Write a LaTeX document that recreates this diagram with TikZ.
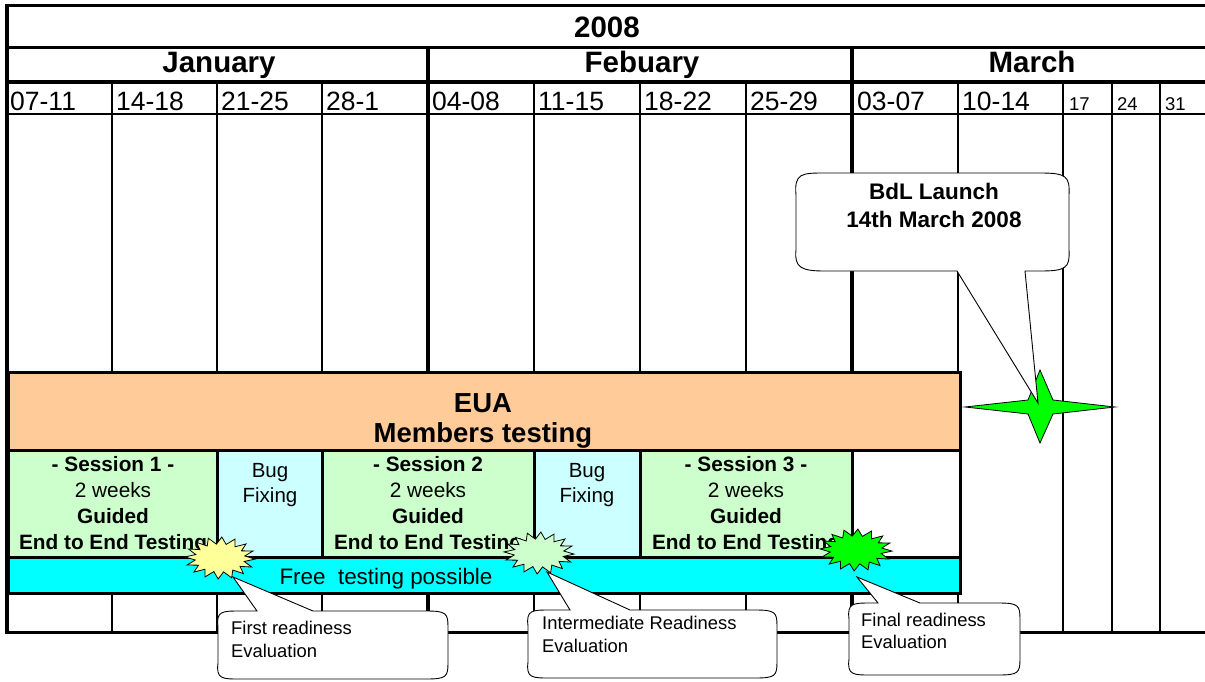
\documentclass[tikz,border=0pt]{standalone}
\usepackage{fontspec}
\setmainfont{Liberation Sans}
\definecolor{euaorange}{HTML}{FFCC99}
\definecolor{sessgreen}{HTML}{CCFFCC}
\definecolor{bugcyan}{HTML}{CCFFFF}
\definecolor{freecyan}{HTML}{00FFFF}
\definecolor{staryellow}{HTML}{FFFF99}
\definecolor{stargreen}{HTML}{00FF00}
\begin{document}
\begin{tikzpicture}[x=1pt,y=-1pt,
  gline/.style={draw=black,line width=2.6pt},
  cellbox/.style={draw=black,line width=3pt},
  hdr/.style={font=\fontsize{29.5}{34}\selectfont\bfseries, anchor=base, inner sep=0pt},
  wk/.style={font=\fontsize{26.5}{30}\selectfont, anchor=base west, inner sep=0pt},
  wks/.style={font=\fontsize{18.5}{22}\selectfont, anchor=base west, inner sep=0pt},
  sess/.style={font=\fontsize{20.8}{26}\selectfont, align=center, anchor=north, inner sep=0pt},
  bug/.style={font=\fontsize{20.5}{25}\selectfont, align=center, anchor=north, inner sep=0pt},
  eua/.style={font=\fontsize{27.5}{30.5}\selectfont\bfseries, align=center, anchor=north, inner sep=0pt},
  calltext/.style={font=\fontsize{18.4}{23}\selectfont, align=left, anchor=north west, inner sep=0pt},
  bubble/.style={draw=black, fill=white, line width=0.9pt},
  burst/.style={draw=black, line width=0.8pt}
]
\useasboundingbox (0,0) rectangle (1205,681);
\fill[white] (0,0) rectangle (1205,681);

% ---- grid ----
\draw[line width=3pt] (8,5) -- (1205,5);
\draw[line width=3pt] (8,47) -- (1205,47);
\draw[line width=4pt] (8,82) -- (1205,82);
\draw[line width=1.2pt] (8,114) -- (1205,114);
\draw[line width=3pt] (8,632) -- (1205,632);
\draw[line width=3.5pt] (7,3.5) -- (7,633.5);
\foreach \x in {428,852} \draw[line width=3.5pt] (\x,47) -- (\x,632);
\foreach \x in {112,217,322,534,640,746,958,1063,1112,1160} \draw[gline] (\x,82) -- (\x,632);

% ---- headers ----
\node[hdr] (year) at (607,37) {2008};
\node[hdr] (jan) at (219,72) {January};
\node[hdr] (feb) at (642,72) {Febuary};
\node[hdr] (mar) at (1032,72) {March};
\node[wk] (w1) at (10,110) {07-11};
\node[wk] (w2) at (116,110) {14-18};
\node[wk] (w3) at (221,110) {21-25};
\node[wk] (w4) at (326,110) {28-1};
\node[wk] (w5) at (432,110) {04-08};
\node[wk] (w6) at (538,110) {11-15};
\node[wk] (w7) at (644,110) {18-22};
\node[wk] (w8) at (750,110) {25-29};
\node[wk] (w9) at (857,110) {03-07};
\node[wk] (w10) at (962,110) {10-14};
\node[wks] (w11) at (1069,110) {17};
\node[wks] (w12) at (1117,110) {24};
\node[wks] (w13) at (1165,110) {31};

% ---- EUA block ----
\draw[cellbox, fill=euaorange] (8,372) rectangle (960,450);
\node[eua] (euatext) at (483,393) {EUA\\Members testing};

\draw[cellbox, fill=sessgreen] (8,450) rectangle (217,557);
\draw[cellbox, fill=bugcyan] (217,450) rectangle (322,557);
\draw[cellbox, fill=sessgreen] (322,450) rectangle (534,557);
\draw[cellbox, fill=bugcyan] (534,450) rectangle (640,557);
\draw[cellbox, fill=sessgreen] (640,450) rectangle (852,557);
\draw[cellbox, fill=white] (852,450) rectangle (960,557);
\draw[cellbox, fill=freecyan] (8,557) rectangle (960,593);

\node[sess] (s1) at (113,456) {\textbf{- Session 1 -}\\2 weeks\\\textbf{Guided}\\\textbf{End to End Testing}};
\node[bug] (b1) at (270,463) {Bug\\Fixing};
\node[sess] (s2) at (428,456) {\textbf{- Session 2}\\2 weeks\\\textbf{Guided}\\\textbf{End to End Testing}};
\node[bug] (b2) at (587,463) {Bug\\Fixing};
\node[sess] (s3) at (746,456) {\textbf{- Session 3 -}\\2 weeks\\\textbf{Guided}\\\textbf{End to End Testing}};
\node[font=\fontsize{22.4}{26}\selectfont, anchor=base, inner sep=0pt] (free) at (386,584) {Free~~testing possible};

% ---- evaluation bursts ----
\coordinate (e1) at (220,558);
\coordinate (e2) at (539,553);
\coordinate (e3) at (856,550);
\filldraw[burst, fill=staryellow, shift={(e1)}] plot[samples at={0,...,31}] ({\x*11.25+3}:{35-10*mod(\x,2)} and {21-7*mod(\x,2)}) -- cycle;
\filldraw[burst, fill=sessgreen, shift={(e2)}] plot[samples at={0,...,31}] ({\x*11.25+3}:{35-10*mod(\x,2)} and {21-7*mod(\x,2)}) -- cycle;
\filldraw[burst, fill=stargreen, shift={(e3)}] plot[samples at={0,...,31}] ({\x*11.25+3}:{36-10*mod(\x,2)} and {21-7*mod(\x,2)}) -- cycle;

% ---- launch star ----
\coordinate (launch) at (1040,407);
\filldraw[burst, fill=stargreen] (1040,370) -- (1053,400) -- (1115,407) -- (1053,414) -- (1040,443) -- (1028,414) -- (965,407) -- (1028,400) -- cycle;

% ---- callouts ----
\coordinate (t1) at (233,577);
\coordinate (t2) at (547,572);
\coordinate (t3) at (857,577);
\coordinate (t4) at (1038,403);

\draw[bubble] (218,627) .. controls (216,611) and (222,611) .. (240,611) -- (257,611) -- (t1) -- (313,611)
  -- (426,611) .. controls (446,611) and (448,613) .. (448,627) -- (448,663) .. controls (448,677) and (446,679) .. (426,679)
  -- (240,679) .. controls (222,679) and (216,679) .. (218,663) -- cycle;
\node[calltext] (c1) at (231,621) {First readiness\\Evaluation};

\draw[bubble] (528,626) .. controls (526,610) and (532,610) .. (550,610) -- (570,610) -- (t2) -- (630,610)
  -- (755,610) .. controls (775,610) and (777,612) .. (777,626) -- (777,662) .. controls (777,676) and (775,678) .. (755,678)
  -- (550,678) .. controls (532,678) and (526,678) .. (528,662) -- cycle;
\node[calltext] (c2) at (542,616) {Intermediate Readiness\\Evaluation};

\draw[bubble] (849,619) .. controls (847,603) and (853,603) .. (871,603) -- (878,603) -- (t3) -- (920,603)
  -- (998,603) .. controls (1018,603) and (1020,605) .. (1020,619) -- (1020,659) .. controls (1020,673) and (1018,675) .. (998,675)
  -- (871,675) .. controls (853,675) and (847,675) .. (849,659) -- cycle;
\node[calltext, font=\fontsize{18.4}{22}\selectfont] (c3) at (861,613) {Final readiness\\Evaluation};

\draw[bubble] (796,195) .. controls (794,173) and (802,173) .. (825,173) -- (1040,173) .. controls (1066,173) and (1070,176) .. (1069,195)
  -- (1069,250) .. controls (1070,268) and (1066,271) .. (1040,271) -- (1025,271) -- (t4) -- (957,271)
  -- (825,271) .. controls (802,271) and (794,268) .. (796,250) -- cycle;
\node[font=\fontsize{22.5}{28}\selectfont\bfseries, align=center, anchor=north, inner sep=0pt] (launchtext) at (934,183) {BdL Launch\\14th March 2008};
\end{tikzpicture}
\end{document}
